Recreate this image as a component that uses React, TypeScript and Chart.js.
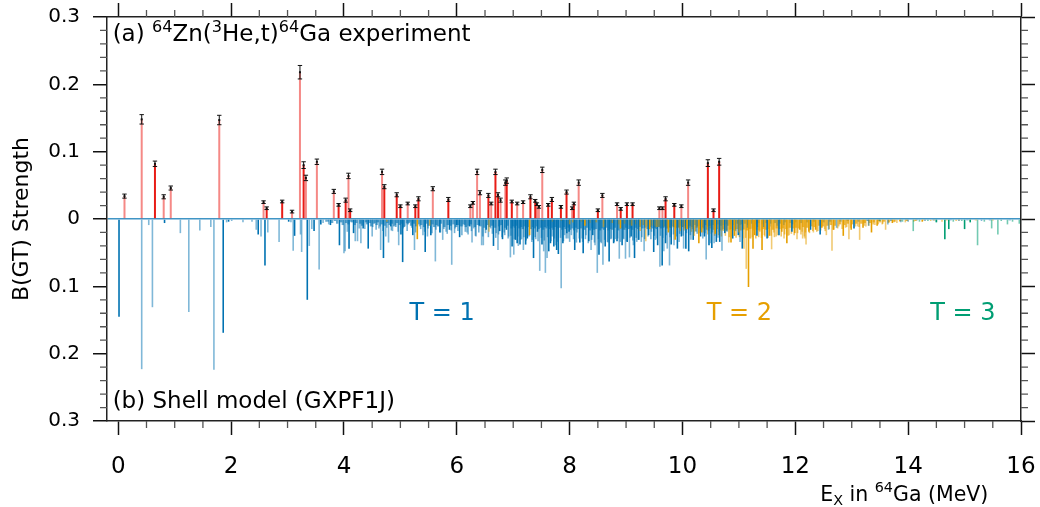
import React, { useEffect, useRef } from "react";
import { Chart, registerables } from "chart.js";

Chart.register(...registerables);

const FONT = '"DejaVu Sans", "Noto Sans", sans-serif';

// ---------- Experiment 64Zn(3He,t)64Ga : [Ex (MeV), B(GT), error] ----------
const expSolid: [number, number, number][] = [
  [0.65, 0.082, 0.004], [2.63, 0.016, 0.002], [2.905, 0.026, 0.002], [3.285, 0.080, 0.005],
  [3.905, 0.021, 0.002], [4.03, 0.028, 0.003], [4.11, 0.013, 0.002], [4.715, 0.048, 0.003],
  [4.935, 0.036, 0.003], [5.0, 0.019, 0.002], [5.265, 0.019, 0.002], [5.32, 0.030, 0.003],
  [5.85, 0.029, 0.003], [6.56, 0.035, 0.003], [6.685, 0.070, 0.004], [6.73, 0.036, 0.003],
  [6.885, 0.057, 0.004], [6.975, 0.026, 0.002], [7.305, 0.033, 0.003], [7.39, 0.027, 0.002],
  [7.62, 0.021, 0.002], [7.685, 0.029, 0.003], [7.845, 0.018, 0.002], [7.945, 0.040, 0.003],
  [8.075, 0.023, 0.002], [8.50, 0.013, 0.002], [8.905, 0.015, 0.002], [9.015, 0.022, 0.002],
  [9.115, 0.022, 0.002], [9.70, 0.030, 0.003], [9.855, 0.021, 0.002], [10.45, 0.083, 0.005],
  [10.55, 0.013, 0.002], [10.65, 0.085, 0.005],
];
const expPale: [number, number, number][] = [
  [0.11, 0.034, 0.003], [0.415, 0.148, 0.007], [0.805, 0.033, 0.003], [0.93, 0.046, 0.003],
  [1.79, 0.147, 0.007], [2.575, 0.025, 0.002], [3.08, 0.011, 0.002], [3.22, 0.218, 0.010],
  [3.325, 0.061, 0.004], [3.52, 0.085, 0.004], [3.82, 0.041, 0.003], [4.08, 0.064, 0.004],
  [4.675, 0.070, 0.004], [5.13, 0.023, 0.002], [5.575, 0.045, 0.003], [6.24, 0.019, 0.002],
  [6.285, 0.024, 0.002], [6.36, 0.070, 0.004], [6.41, 0.039, 0.003], [6.61, 0.023, 0.002],
  [6.775, 0.028, 0.003], [6.86, 0.054, 0.004], [7.07, 0.023, 0.002], [7.175, 0.025, 0.002],
  [7.42, 0.022, 0.002], [7.455, 0.018, 0.002], [7.515, 0.073, 0.004], [8.045, 0.016, 0.002],
  [8.16, 0.054, 0.004], [8.58, 0.035, 0.003], [8.84, 0.022, 0.002], [9.59, 0.016, 0.002],
  [9.645, 0.016, 0.002], [9.98, 0.019, 0.002], [10.10, 0.054, 0.004],
];

// ---------- Shell model (GXPF1J) : [Ex (MeV), B(GT)] ----------
const t1Dark: [number, number][] = [
  [0.013, 0.145], [0.82, 0.006], [1.86, 0.169], [1.955, 0.004], [2.48, 0.023], [2.60, 0.069],
  [3.02, 0.004], [3.125, 0.025], [3.35, 0.120], [3.47, 0.018], [3.59, 0.008],
  [3.76, 0.009], [3.92, 0.039], [4.09, 0.044], [4.17, 0.021], [4.34, 0.014], [4.43, 0.044],
  [4.70, 0.058], [4.83, 0.011], [5.01, 0.023], [5.04, 0.064], [5.22, 0.024], [5.44, 0.049],
  [5.54, 0.024], [5.70, 0.020], [5.87, 0.016], [6.00, 0.009], [6.05, 0.027], [6.23, 0.011],
  [6.40, 0.010], [6.52, 0.016], [6.65, 0.040], [6.76, 0.018], [6.81, 0.030], [6.88, 0.016],
  [6.98, 0.041], [7.04, 0.031], [7.07, 0.036], [7.12, 0.038], [7.22, 0.038], [7.25, 0.029],
  [7.36, 0.058], [7.43, 0.019], [7.51, 0.038], [7.63, 0.048], [7.66, 0.036], [7.72, 0.041],
  [7.77, 0.046], [7.80, 0.052], [7.88, 0.036], [7.95, 0.021], [7.99, 0.019],
  [8.09, 0.046], [8.18, 0.035], [8.24, 0.051], [8.34, 0.033], [8.41, 0.024], [8.52, 0.053],
  [8.63, 0.041], [8.70, 0.063], [8.78, 0.036], [8.84, 0.033], [8.93, 0.039], [9.02, 0.034],
  [9.09, 0.026], [9.15, 0.058], [9.22, 0.031], [9.40, 0.024], [9.49, 0.049], [9.56, 0.039],
  [9.64, 0.069], [9.70, 0.036], [9.80, 0.038], [9.91, 0.044], [9.98, 0.026], [10.06, 0.044],
  [10.11, 0.048], [10.19, 0.031], [10.32, 0.026], [10.39, 0.026], [10.47, 0.039], [10.52, 0.043],
  [10.60, 0.034], [10.66, 0.034], [10.75, 0.021], [10.89, 0.029], [10.99, 0.024], [11.06, 0.044],
  [11.32, 0.025], [11.50, 0.029], [11.71, 0.024], [11.94, 0.019],
  [12.27, 0.016], [12.44, 0.023], [13.04, 0.014],
];
const t1Light: [number, number][] = [
  [0.415, 0.223], [0.54, 0.009], [0.605, 0.131], [1.10, 0.021], [1.25, 0.138], [1.445, 0.017],
  [1.64, 0.012], [1.695, 0.224], [1.92, 0.005], [2.01, 0.003], [2.21, 0.005], [2.37, 0.004],
  [2.445, 0.016], [2.53, 0.026], [2.65, 0.020], [2.85, 0.034], [3.06, 0.005], [3.10, 0.047],
  [3.23, 0.023], [3.25, 0.049], [3.385, 0.040], [3.43, 0.015], [3.56, 0.075], [3.63, 0.006],
  [3.68, 0.004], [3.73, 0.008],
  [4.00, 0.051], [4.02, 0.048], [4.06, 0.019], [4.12, 0.004], [4.20, 0.033], [4.24, 0.033],
  [4.27, 0.014], [4.30, 0.036], [4.37, 0.015], [4.50, 0.026], [4.55, 0.006], [4.62, 0.014],
  [4.65, 0.046], [4.74, 0.026], [4.79, 0.035], [4.86, 0.018], [4.91, 0.009], [4.97, 0.039],
  [5.08, 0.011], [5.11, 0.006], [5.17, 0.004], [5.25, 0.046], [5.34, 0.011], [5.40, 0.024],
  [5.48, 0.026], [5.62, 0.063], [5.66, 0.011], [5.75, 0.031], [5.81, 0.019], [5.91, 0.068],
  [5.97, 0.014], [6.10, 0.011], [6.14, 0.009], [6.18, 0.020], [6.27, 0.035], [6.30, 0.014],
  [6.34, 0.026], [6.44, 0.039], [6.47, 0.039], [6.60, 0.014], [6.70, 0.021], [6.73, 0.046],
  [6.84, 0.020], [6.92, 0.026], [6.95, 0.057], [7.01, 0.053], [7.09, 0.040], [7.15, 0.030],
  [7.18, 0.046], [7.33, 0.034], [7.40, 0.030], [7.47, 0.077], [7.54, 0.048], [7.57, 0.080],
  [7.60, 0.058], [7.69, 0.026], [7.75, 0.039], [7.85, 0.103], [7.91, 0.024], [7.97, 0.029],
  [8.03, 0.024], [8.13, 0.020], [8.22, 0.029], [8.29, 0.024], [8.38, 0.046], [8.45, 0.039],
  [8.49, 0.080], [8.55, 0.034], [8.59, 0.068], [8.67, 0.034], [8.74, 0.029], [8.81, 0.030],
  [8.88, 0.059], [8.95, 0.029], [8.99, 0.059], [9.06, 0.057], [9.13, 0.039], [9.19, 0.034],
  [9.27, 0.034], [9.32, 0.048], [9.45, 0.019], [9.52, 0.031], [9.60, 0.071], [9.67, 0.048],
  [9.73, 0.044], [9.77, 0.069], [9.85, 0.039], [9.94, 0.034], [10.02, 0.044], [10.15, 0.031],
  [10.24, 0.019], [10.36, 0.029], [10.42, 0.060], [10.50, 0.036], [10.56, 0.036], [10.63, 0.028],
  [10.70, 0.047], [10.79, 0.019], [10.94, 0.018], [11.02, 0.034],
  [12.59, 0.016], [12.73, 0.013], [13.30, 0.010], [13.64, 0.008], [13.87, 0.005], [14.0, 0.004],
  [14.3, 0.003], [14.5, 0.004], [14.9, 0.003], [15.3, 0.003],
];
// medium-strength T=1 states inside the dense region
const t1Medium: [number, number][] = [
  [4.51, 0.012], [4.57, 0.016], [4.64, 0.011], [4.69, 0.018], [4.76, 0.013], [4.84, 0.017],
  [4.92, 0.012], [4.96, 0.019], [5.05, 0.014], [5.12, 0.018], [5.20, 0.013], [5.27, 0.020],
  [5.36, 0.015], [5.43, 0.019], [5.49, 0.014], [5.56, 0.021], [5.63, 0.016], [5.71, 0.020],
  [5.77, 0.015], [5.83, 0.022], [5.90, 0.017], [5.96, 0.021], [6.02, 0.018], [6.09, 0.024],
  [6.15, 0.019], [6.20, 0.023], [6.26, 0.018], [6.33, 0.025], [6.39, 0.020], [6.46, 0.026],
  [6.51, 0.021], [6.56, 0.027], [6.63, 0.022], [6.69, 0.028], [6.74, 0.023], [6.80, 0.027],
  [6.85, 0.024], [6.91, 0.029], [6.96, 0.025], [7.02, 0.030], [7.08, 0.026], [7.13, 0.031],
  [7.19, 0.027], [7.23, 0.032], [7.28, 0.026], [7.34, 0.031], [7.39, 0.027], [7.44, 0.033],
  [7.50, 0.028], [7.55, 0.032], [7.61, 0.027], [7.67, 0.033], [7.73, 0.029], [7.78, 0.034],
  [7.84, 0.028], [7.89, 0.033], [7.94, 0.029], [8.00, 0.034], [8.07, 0.030], [8.12, 0.035],
  [8.17, 0.029], [8.23, 0.034], [8.28, 0.030], [8.33, 0.036], [8.39, 0.031], [8.44, 0.035],
  [8.51, 0.030], [8.56, 0.036], [8.62, 0.031], [8.68, 0.035], [8.73, 0.030], [8.79, 0.034],
  [8.85, 0.029], [8.90, 0.034], [8.96, 0.030], [9.01, 0.033], [9.07, 0.028], [9.12, 0.032],
  [9.18, 0.028], [9.23, 0.031], [9.28, 0.027], [9.33, 0.030], [9.39, 0.026], [9.44, 0.030],
  [9.50, 0.025], [9.55, 0.029], [9.61, 0.025], [9.65, 0.028], [9.71, 0.024], [9.78, 0.027],
  [9.84, 0.023], [9.89, 0.026], [9.95, 0.022], [10.01, 0.025], [10.07, 0.021], [10.14, 0.024],
  [10.20, 0.020], [10.26, 0.022], [10.33, 0.019], [10.40, 0.021], [10.46, 0.018], [10.53, 0.020],
  [10.59, 0.017], [10.65, 0.019], [10.71, 0.016], [10.78, 0.018], [10.86, 0.015], [10.93, 0.016],
  [11.00, 0.014], [11.08, 0.015], [11.15, 0.013], [11.24, 0.014], [11.33, 0.012], [11.44, 0.012],
  [11.55, 0.011], [11.68, 0.010], [11.80, 0.009], [11.95, 0.008],
];
// many weak T=1 states forming the dense band near zero
const t1Weak: [number, number][] = [
  [3.71, 0.004], [3.79, 0.006], [3.84, 0.003], [3.88, 0.007], [3.95, 0.005], [3.98, 0.009],
  [4.04, 0.006], [4.08, 0.008], [4.14, 0.005], [4.19, 0.009], [4.22, 0.006], [4.29, 0.007],
  [4.32, 0.010], [4.39, 0.005], [4.41, 0.008], [4.46, 0.006], [4.48, 0.011], [4.53, 0.007],
  [4.58, 0.009], [4.60, 0.005], [4.67, 0.008], [4.72, 0.010], [4.77, 0.006], [4.81, 0.009],
  [4.85, 0.007], [4.89, 0.011], [4.94, 0.006], [4.99, 0.009], [5.03, 0.007], [5.06, 0.012],
  [5.13, 0.008], [5.15, 0.006], [5.19, 0.010], [5.24, 0.007], [5.28, 0.011], [5.32, 0.008],
  [5.37, 0.009], [5.42, 0.012], [5.46, 0.007], [5.50, 0.010], [5.57, 0.008], [5.60, 0.012],
  [5.64, 0.009], [5.68, 0.011], [5.72, 0.007], [5.78, 0.012], [5.84, 0.009], [5.89, 0.010],
  [5.94, 0.008], [5.99, 0.012], [6.03, 0.009], [6.07, 0.011], [6.12, 0.008], [6.16, 0.012],
  [6.21, 0.010], [6.25, 0.008], [6.32, 0.012], [6.37, 0.009], [6.42, 0.011], [6.49, 0.013],
  [6.55, 0.009], [6.58, 0.012], [6.62, 0.010], [6.68, 0.013], [6.75, 0.011], [6.79, 0.009],
  [6.86, 0.013], [6.90, 0.010], [6.97, 0.014], [7.00, 0.011], [7.03, 0.013], [7.06, 0.010],
  [7.11, 0.014], [7.14, 0.012], [7.17, 0.015], [7.20, 0.011], [7.24, 0.013], [7.27, 0.012],
  [7.31, 0.015], [7.35, 0.012], [7.38, 0.014], [7.42, 0.011], [7.45, 0.015], [7.49, 0.013],
  [7.53, 0.016], [7.56, 0.012], [7.59, 0.014], [7.62, 0.011], [7.65, 0.015], [7.68, 0.013],
  [7.71, 0.016], [7.74, 0.012], [7.79, 0.014], [7.83, 0.013], [7.87, 0.016], [7.90, 0.012],
  [7.93, 0.015], [7.98, 0.013], [8.01, 0.016], [8.05, 0.014], [8.08, 0.017], [8.11, 0.013],
  [8.15, 0.015], [8.20, 0.014], [8.26, 0.016], [8.31, 0.013], [8.36, 0.017], [8.40, 0.014],
  [8.43, 0.016], [8.47, 0.015], [8.54, 0.017], [8.57, 0.014], [8.61, 0.016], [8.65, 0.013],
  [8.69, 0.017], [8.72, 0.015], [8.76, 0.016], [8.80, 0.013], [8.86, 0.017], [8.91, 0.014],
  [8.97, 0.016], [9.00, 0.013], [9.04, 0.015], [9.08, 0.014], [9.11, 0.016], [9.17, 0.013],
  [9.21, 0.015], [9.24, 0.012], [9.29, 0.014], [9.34, 0.013], [9.38, 0.015], [9.43, 0.012],
  [9.47, 0.014], [9.51, 0.013], [9.54, 0.015], [9.58, 0.012], [9.62, 0.014], [9.66, 0.013],
  [9.69, 0.011], [9.72, 0.014], [9.76, 0.012], [9.79, 0.013], [9.83, 0.011], [9.88, 0.013],
  [9.93, 0.012], [9.97, 0.010], [10.00, 0.012], [10.04, 0.011], [10.09, 0.013], [10.13, 0.010],
  [10.17, 0.012], [10.22, 0.009], [10.27, 0.011], [10.31, 0.010], [10.35, 0.012], [10.41, 0.009],
  [10.45, 0.011], [10.49, 0.010], [10.54, 0.009], [10.58, 0.011], [10.62, 0.008], [10.68, 0.010],
  [10.73, 0.009], [10.77, 0.008], [10.81, 0.010], [10.85, 0.008], [10.91, 0.009], [10.97, 0.007],
  [11.01, 0.009], [11.05, 0.008], [11.11, 0.007], [11.16, 0.009], [11.23, 0.007], [11.30, 0.008],
  [11.35, 0.006], [11.42, 0.008], [11.48, 0.006], [11.56, 0.007], [11.64, 0.006], [11.73, 0.007],
  [11.82, 0.005], [11.91, 0.006], [12.00, 0.005], [12.10, 0.006], [12.21, 0.005], [12.33, 0.004],
  [12.50, 0.005], [12.62, 0.004], [12.80, 0.004], [12.93, 0.003], [13.12, 0.004], [13.28, 0.003],
  [13.48, 0.003], [13.70, 0.003], [13.97, 0.002], [14.15, 0.002], [14.45, 0.002], [14.75, 0.002],
  [15.05, 0.002], [15.45, 0.002], [15.80, 0.002],
];
const t2Dark: [number, number][] = [
  [5.30, 0.030], [7.29, 0.024], [8.27, 0.010], [8.90, 0.014], [9.42, 0.015], [9.75, 0.020],
  [9.87, 0.031], [10.08, 0.015], [10.29, 0.036], [10.34, 0.020], [10.58, 0.022], [10.86, 0.035],
  [10.92, 0.025], [11.17, 0.101], [11.25, 0.044], [11.28, 0.024], [11.41, 0.046], [11.54, 0.025],
  [11.76, 0.019], [11.85, 0.036], [11.99, 0.021], [12.08, 0.016], [12.24, 0.019], [12.36, 0.016],
  [12.47, 0.013], [12.68, 0.016], [12.85, 0.025], [12.99, 0.016], [13.20, 0.013], [13.35, 0.020],
  [13.45, 0.010], [13.72, 0.006], [14.25, 0.004],
];
const t2Light: [number, number][] = [
  [4.76, 0.004], [5.52, 0.010], [6.57, 0.019], [8.00, 0.008], [8.60, 0.012], [9.10, 0.010],
  [9.25, 0.018], [9.35, 0.033], [9.55, 0.012], [9.96, 0.018], [10.21, 0.025], [10.44, 0.012],
  [10.72, 0.018], [10.82, 0.035], [11.00, 0.020], [11.09, 0.044], [11.13, 0.074], [11.21, 0.029],
  [11.37, 0.019], [11.45, 0.024], [11.58, 0.045], [11.62, 0.020], [11.66, 0.026], [11.80, 0.029],
  [11.89, 0.024], [12.03, 0.030], [12.12, 0.019], [12.13, 0.029], [12.16, 0.026], [12.17, 0.029],
  [12.19, 0.038], [12.32, 0.020], [12.40, 0.018], [12.52, 0.015], [12.55, 0.024], [12.65, 0.047],
  [12.77, 0.011], [12.89, 0.013], [12.95, 0.030], [13.10, 0.011], [13.14, 0.031], [13.25, 0.011],
  [13.41, 0.009], [13.54, 0.008], [13.60, 0.016], [13.80, 0.006], [13.95, 0.005], [14.1, 0.004],
  [14.4, 0.003], [14.6, 0.004], [14.85, 0.003], [15.1, 0.003],
];
// medium-strength T=2 states inside the dense region
const t2Medium: [number, number][] = [
  [9.50, 0.010], [9.58, 0.012], [9.65, 0.011], [9.73, 0.014], [9.81, 0.013], [9.88, 0.015],
  [9.95, 0.014], [10.03, 0.017], [10.10, 0.016], [10.16, 0.019], [10.23, 0.018], [10.30, 0.021],
  [10.38, 0.020], [10.45, 0.023], [10.51, 0.022], [10.57, 0.025], [10.64, 0.024], [10.69, 0.026],
  [10.76, 0.025], [10.83, 0.027], [10.88, 0.026], [10.95, 0.028], [11.01, 0.027], [11.07, 0.029],
  [11.12, 0.028], [11.19, 0.029], [11.24, 0.027], [11.30, 0.029], [11.35, 0.027], [11.40, 0.028],
  [11.46, 0.026], [11.52, 0.028], [11.57, 0.025], [11.63, 0.027], [11.69, 0.024], [11.75, 0.026],
  [11.81, 0.023], [11.87, 0.025], [11.93, 0.022], [11.98, 0.024], [12.04, 0.021], [12.10, 0.023],
  [12.18, 0.020], [12.25, 0.021], [12.31, 0.018], [12.38, 0.019], [12.45, 0.017], [12.53, 0.018],
  [12.60, 0.015], [12.67, 0.016], [12.75, 0.014], [12.83, 0.015], [12.91, 0.012], [12.98, 0.013],
  [13.06, 0.011], [13.13, 0.012], [13.22, 0.010], [13.30, 0.010], [13.38, 0.008], [13.47, 0.008],
  [13.55, 0.007], [13.65, 0.006], [13.75, 0.005], [13.85, 0.004],
];
// many weak T=2 states forming the dense band near zero
const t2Weak: [number, number][] = [
  [7.52, 0.003], [7.70, 0.004], [7.86, 0.003], [8.06, 0.005], [8.21, 0.004], [8.35, 0.006],
  [8.47, 0.005], [8.62, 0.007], [8.75, 0.006], [8.86, 0.008], [8.97, 0.007], [9.07, 0.009],
  [9.16, 0.008], [9.24, 0.010], [9.31, 0.009], [9.38, 0.011], [9.45, 0.010], [9.53, 0.012],
  [9.59, 0.011], [9.66, 0.012], [9.72, 0.011], [9.79, 0.013], [9.85, 0.012], [9.92, 0.013],
  [9.99, 0.012], [10.05, 0.014], [10.12, 0.013], [10.18, 0.015], [10.25, 0.013], [10.31, 0.015],
  [10.37, 0.014], [10.43, 0.016], [10.50, 0.014], [10.55, 0.016], [10.61, 0.015], [10.67, 0.017],
  [10.73, 0.015], [10.78, 0.017], [10.84, 0.016], [10.90, 0.017], [10.96, 0.015], [11.03, 0.017],
  [11.08, 0.016], [11.14, 0.017], [11.20, 0.015], [11.26, 0.017], [11.31, 0.016], [11.36, 0.017],
  [11.43, 0.015], [11.48, 0.016], [11.53, 0.015], [11.60, 0.016], [11.67, 0.014], [11.72, 0.015],
  [11.78, 0.014], [11.84, 0.015], [11.90, 0.013], [11.96, 0.014], [12.01, 0.013], [12.06, 0.014],
  [12.14, 0.012], [12.21, 0.013], [12.29, 0.011], [12.34, 0.012], [12.42, 0.010], [12.49, 0.011],
  [12.57, 0.010], [12.63, 0.009], [12.70, 0.010], [12.79, 0.008], [12.87, 0.009], [12.93, 0.007],
  [13.01, 0.008], [13.08, 0.007], [13.17, 0.007], [13.23, 0.006], [13.32, 0.006], [13.39, 0.005],
  [13.50, 0.005], [13.57, 0.004], [13.66, 0.005], [13.76, 0.004], [13.86, 0.003], [13.98, 0.003],
  [14.13, 0.003], [14.28, 0.002], [14.46, 0.002], [14.68, 0.002], [14.90, 0.002], [15.20, 0.002],
  [15.50, 0.002],
];
const t3Dark: [number, number][] = [
  [14.5, 0.005], [14.65, 0.030], [14.72, 0.015], [15.00, 0.015], [15.1, 0.005],
];
const t3Light: [number, number][] = [
  [13.5, 0.003], [13.9, 0.004], [14.09, 0.018], [14.2, 0.004], [14.35, 0.003], [14.8, 0.004],
  [14.95, 0.003], [15.23, 0.039], [15.35, 0.004], [15.48, 0.014], [15.59, 0.023], [15.65, 0.003],
  [15.76, 0.008], [15.85, 0.004], [15.97, 0.007],
];

// ---------- axes ----------
const X_MIN = -0.2, X_MAX = 16, X_MAJOR = 2, X_MINOR = 0.5;
const Y_MIN = -0.3, Y_MAX = 0.3, Y_MAJOR = 0.1, Y_MINOR = 0.02;

// ---------- text annotations (data coordinates) ----------
type Part = [string, "n" | "sup" | "sub"];
const annotations: { parts: Part[]; x: number; y: number; size: number; color: string; align: "left" | "center" | "right" }[] = [
  { parts: [["(a) ", "n"], ["64", "sup"], ["Zn(", "n"], ["3", "sup"], ["He,t)", "n"], ["64", "sup"], ["Ga experiment", "n"]], x: -0.1, y: 0.264, size: 23, color: "#000", align: "left" },
  { parts: [["(b) Shell model (GXPF1J)", "n"]], x: -0.1, y: -0.281, size: 23, color: "#000", align: "left" },
  { parts: [["T = 1", "n"]], x: 5.74, y: -0.1495, size: 24, color: "#0072B2", align: "center" },
  { parts: [["T = 2", "n"]], x: 11.01, y: -0.1495, size: 24, color: "#E69F00", align: "center" },
  { parts: [["T = 3", "n"]], x: 14.97, y: -0.1495, size: 24, color: "#009E73", align: "center" },
];
const xTitle: Part[] = [["E", "n"], ["X", "sub"], [" in ", "n"], ["64", "sup"], ["Ga (MeV)", "n"]];

function drawRich(ctx: CanvasRenderingContext2D, parts: Part[], x: number, y: number, size: number, color: string, align: string) {
  const small = size * 0.7;
  const widths = parts.map(([t, k]) => {
    ctx.font = `${k === "n" ? size : small}px ${FONT}`;
    return ctx.measureText(t).width;
  });
  const total = widths.reduce((a, b) => a + b, 0);
  let cx = align === "left" ? x : align === "right" ? x - total : x - total / 2;
  ctx.fillStyle = color;
  ctx.textBaseline = "alphabetic";
  ctx.textAlign = "left";
  parts.forEach(([t, k], i) => {
    ctx.font = `${k === "n" ? size : small}px ${FONT}`;
    const dy = k === "sup" ? -size * 0.42 : k === "sub" ? size * 0.2 : 0;
    ctx.fillText(t, cx, y + dy);
    cx += widths[i];
  });
}

const decorPlugin = {
  id: "decor",
  afterDraw(chart: any) {
    const { ctx, chartArea: a, scales } = chart;
    const xs = scales.x, ys = scales.y;
    ctx.save();
    ctx.strokeStyle = "#555";
    ctx.lineWidth = 1.3;
    ctx.beginPath();
    const nx = Math.round(X_MAX / X_MINOR);
    for (let i = 0; i <= nx; i++) {
      const v = i * X_MINOR;
      if (Math.abs(v / X_MAJOR - Math.round(v / X_MAJOR)) < 1e-6) continue;
      const px = xs.getPixelForValue(v);
      ctx.moveTo(px, a.bottom); ctx.lineTo(px, a.bottom + 7);
      ctx.moveTo(px, a.top); ctx.lineTo(px, a.top - 7);
    }
    const ny = Math.round((Y_MAX - Y_MIN) / Y_MINOR);
    for (let i = 0; i <= ny; i++) {
      const v = Y_MIN + i * Y_MINOR;
      if (Math.abs(v / Y_MAJOR - Math.round(v / Y_MAJOR)) < 1e-6) continue;
      const py = ys.getPixelForValue(v);
      ctx.moveTo(a.left, py); ctx.lineTo(a.left - 7, py);
      ctx.moveTo(a.right, py); ctx.lineTo(a.right + 7, py);
    }
    ctx.stroke();
    for (const an of annotations) {
      drawRich(ctx, an.parts, xs.getPixelForValue(an.x), ys.getPixelForValue(an.y), an.size, an.color, an.align);
    }
    drawRich(ctx, xTitle, xs.getPixelForValue(15.42), a.bottom + 80, 20.5, "#000", "right");
    ctx.restore();
  },
};

const RED = "rgb(232,28,22)";
const RED_PALE = "rgba(236,40,34,0.55)";
const BLUE = "rgba(0,114,178,1)";
const BLUE_L = "rgba(0,114,178,0.5)";
const BLUE_M = "rgba(0,114,178,0.55)";
const BLUE_W = "rgba(0,114,178,0.6)";
const ORANGE = "rgba(230,159,0,1)";
const ORANGE_L = "rgba(230,159,0,0.55)";
const ORANGE_M = "rgba(230,159,0,0.6)";
const ORANGE_W = "rgba(230,159,0,0.7)";
const GREEN = "rgba(0,158,115,1)";
const GREEN_L = "rgba(0,158,115,0.55)";

export default function App() {
  const ref = useRef<HTMLCanvasElement>(null);
  useEffect(() => {
    document.body.style.margin = "0";
    const down = (arr: [number, number][]) => arr.map(([e, b]) => ({ x: e, y: -b }));
    const up = (arr: [number, number, number][]) => arr.map(([e, b]) => ({ x: e, y: b }));
    const allExp = [...expSolid, ...expPale];
    const stick = (data: any[], color: string, order: number, w: number) => ({
      type: "bar" as const, data, backgroundColor: color, borderWidth: 0, barThickness: w,
      inflateAmount: 0, grouped: false, order,
    });
    const datasets: any[] = [
      stick(down(t1Weak), BLUE_W, 30, 2.4),
      stick(down(t2Weak), ORANGE_W, 29, 2.4),
      stick(down(t1Medium), BLUE_M, 28, 1.6),
      stick(down(t2Medium), ORANGE_M, 27, 1.6),
      stick(down(t1Light), BLUE_L, 20, 1.6),
      stick(down(t1Dark), BLUE, 19, 1.6),
      stick(down(t2Light), ORANGE_L, 18, 1.6),
      stick(down(t2Dark), ORANGE, 17, 1.6),
      stick(down(t3Light), GREEN_L, 16, 1.6),
      stick(down(t3Dark), GREEN, 15, 1.6),
      stick(up(expPale), RED_PALE, 6, 2),
      stick(up(expSolid), RED, 5, 2),
      stick(allExp.map(([e, b, s]) => ({ x: e, y: [b - s, b + s] })), "#111", 3, 1),
      {
        type: "line", data: allExp.flatMap(([e, b, s]) => [{ x: e, y: b - s }, { x: e, y: b + s }]),
        showLine: false, pointStyle: "line", pointRadius: 2.2, pointBorderColor: "#111", pointBorderWidth: 1, order: 1,
      },
      {
        type: "line", data: allExp.map(([e, b]) => ({ x: e, y: b })),
        showLine: false, pointStyle: "rect", pointRadius: 1.4, pointBackgroundColor: "#111", pointBorderWidth: 0, order: 0,
      },
    ];
    const gridBase = { drawOnChartArea: false, drawTicks: true, tickLength: 14, tickColor: "#111", tickWidth: 1.5, offset: false };
    const border = { display: true, color: "#222", width: 1.5 };
    const fixPad = (s: any) => { s.paddingLeft = 0; s.paddingRight = 0; s.paddingTop = 0; s.paddingBottom = 0; };
    const chart = new Chart(ref.current!, {
      type: "bar",
      data: { datasets },
      plugins: [decorPlugin],
      options: {
        animation: false,
        responsive: false,
        devicePixelRatio: 1,
        layout: { padding: 0 },
        plugins: { legend: { display: false }, tooltip: { enabled: false } },
        scales: {
          x: {
            type: "linear", position: "bottom", min: X_MIN, max: X_MAX, offset: false,
            grid: gridBase, border,
            ticks: { stepSize: X_MAJOR, includeBounds: false, color: "#000", padding: 18, font: { family: FONT, size: 23 }, maxRotation: 0, callback: (v: any) => String(Math.round(Number(v))) },
            afterFit: (s: any) => { s.height = 86; fixPad(s); },
          },
          x2: {
            type: "linear", position: "top", min: X_MIN, max: X_MAX, offset: false, display: true,
            grid: gridBase, border,
            ticks: { stepSize: X_MAJOR, includeBounds: false, display: false, padding: 0 },
            afterFit: (s: any) => { s.height = 17; fixPad(s); },
          },
          y: {
            type: "linear", position: "left", min: Y_MIN, max: Y_MAX,
            grid: {
              drawOnChartArea: true, drawTicks: true, tickLength: 14, tickColor: "#111", tickWidth: 1.5, lineWidth: 1.5,
              color: (c: any) => (c.tick && Math.abs(c.tick.value) < 1e-9 ? "rgba(0,114,178,0.75)" : "rgba(0,0,0,0)"),
            },
            border,
            ticks: {
              stepSize: Y_MAJOR, includeBounds: false, color: "#000", padding: 13, font: { family: FONT, size: 20 },
              callback: (v: any) => { const a = Math.abs(Number(v)); return a < 1e-9 ? "0" : a.toFixed(1); },
            },
            title: { display: true, text: "B(GT) Strength", color: "#000", font: { family: FONT, size: 22 }, padding: { top: 9, bottom: 0 } },
            afterFit: (s: any) => { s.width = 107; fixPad(s); },
          },
          y2: {
            type: "linear", position: "right", min: Y_MIN, max: Y_MAX, display: true,
            grid: { drawOnChartArea: false, drawTicks: true, tickLength: 14, tickColor: "#111", tickWidth: 1.5 },
            border,
            ticks: { stepSize: Y_MAJOR, includeBounds: false, display: false, padding: 0 },
            afterFit: (s: any) => { s.width = 19; fixPad(s); },
          },
        },
      } as any,
    });
    return () => chart.destroy();
  }, []);
  return <canvas ref={ref} width={1040} height={507} style={{ display: "block" }} />;
}
